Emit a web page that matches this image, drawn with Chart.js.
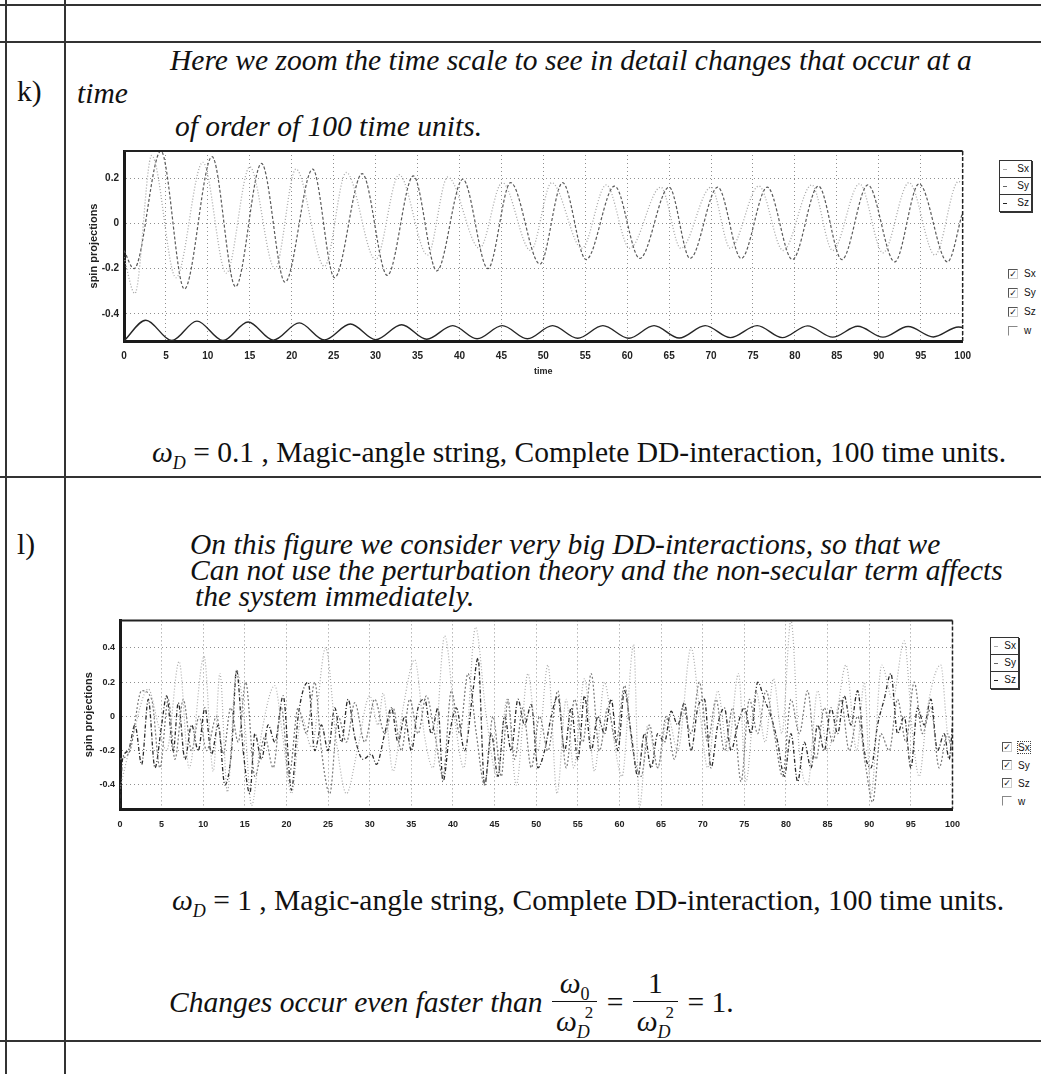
<!DOCTYPE html>
<html>
<head>
<meta charset="utf-8">
<title>Spin projections</title>
<script src="https://cdn.jsdelivr.net/npm/chart.js@4.4.1/dist/chart.umd.min.js"></script>
<style>
  body { margin: 0; background: #fff; }
  #page { position: relative; width: 1041px; height: 1074px; overflow: hidden;
          font-family: "Liberation Serif", "Times New Roman", serif; color: #111; }
  .txt { position: absolute; white-space: nowrap; font-size: 29.5px; line-height: 1; }
  .it { font-style: italic; }
  .hl { position: absolute; left: 0; width: 1041px; height: 2px; background: #333; }
  .vl { position: absolute; top: 0; width: 2px; height: 1074px; background: #333; }
  canvas { position: absolute; }
  sub { font-size: 18px; vertical-align: -7px; line-height: 0; }
  sup { font-size: 17px; vertical-align: 13px; line-height: 0; margin-left: -5px; }
  .frow { position: absolute; display: flex; align-items: center; font-size: 29.5px; white-space: nowrap; }
  .frac { display: inline-flex; flex-direction: column; align-items: center; margin: 0 2px; }
  .fn { padding: 0 4px 2px; line-height: 1.1; }
  .fd { border-top: 1.5px solid #111; padding: 3px 4px 0; line-height: 1.1; }
  .lbox { position: absolute; border: 1px solid #333; box-shadow: 1px 1px 0 #333; background: #fff;
          font: 10px "Liberation Sans", Arial, sans-serif; color: #111; }
  .lrow { position: relative; height: 16px; line-height: 16px; text-align: right; padding-right: 2px;
          border-bottom: 1px solid #333; }
  .lrow:last-child { border-bottom: none; }
  .ls { position: absolute; left: 3px; top: 8px; width: 4px; border-top: 1px solid #555; }
  .cbl { position: absolute; font: 10px "Liberation Sans", Arial, sans-serif; color: #111; }
  .cbr { display: flex; align-items: center; }
  .box { width: 8px; height: 8px; margin-right: 6px; border-top: 1px solid #555; border-left: 1px solid #555;
         border-right: 1px solid #ccc; border-bottom: 1px solid #ccc;
         font: bold 9px "DejaVu Sans", sans-serif; line-height: 8px; text-align: center; }
  .off { border-right-color: transparent; border-bottom-color: transparent; border-top-color: #888; border-left-color: #888; }
  .focus { outline: 1px dotted #444; }
</style>
</head>
<body>
<div id="page">
  <!-- table lines -->
  <div class="hl" style="top:4px"></div>
  <div class="hl" style="top:41px"></div>
  <div class="hl" style="top:476px"></div>
  <div class="hl" style="top:1040px"></div>
  <div class="vl" style="left:5px"></div>
  <div class="vl" style="left:64px"></div>

  <!-- k) -->
  <div class="txt it" style="left:170px;top:46px">Here we zoom the time scale to see in detail changes that occur at a</div>
  <div class="txt" style="left:17px;top:77px">k)</div>
  <div class="txt it" style="left:77px;top:79px">time</div>
  <div class="txt it" style="left:175px;top:112px">of order of 100 time units.</div>

  <canvas id="chartK" width="920" height="245" style="left:60px;top:140px"></canvas>

  <div class="lbox" style="left:999px;top:160px;width:31px">
    <div class="lrow"><span class="ls" style="border-color:#aaa"></span>Sx</div>
    <div class="lrow"><span class="ls" style="border-color:#666"></span>Sy</div>
    <div class="lrow"><span class="ls" style="border-color:#222"></span>Sz</div>
  </div>
  <div class="cbl" style="left:1008px;top:264px">
    <div class="cbr" style="height:19px"><span class="box">✓</span>Sx</div>
    <div class="cbr" style="height:19px"><span class="box">✓</span>Sy</div>
    <div class="cbr" style="height:19px"><span class="box">✓</span>Sz</div>
    <div class="cbr" style="height:19px"><span class="box off"></span>w</div>
  </div>

  <div class="txt" style="left:152px;top:438px"><i>ω</i><sub><i>D</i></sub> = 0.1 , Magic-angle string, Complete DD-interaction, 100 time units.</div>

  <!-- l) -->
  <div class="txt" style="left:17px;top:530px">l)</div>
  <div class="txt it" style="left:190px;top:530px">On this figure we consider very big DD-interactions, so that we</div>
  <div class="txt it" style="left:190px;top:556px">Can not use the perturbation theory and the non-secular term affects</div>
  <div class="txt it" style="left:195px;top:582px">the system immediately.</div>

  <canvas id="chartL" width="910" height="225" style="left:60px;top:610px"></canvas>

  <div class="lbox" style="left:990px;top:637px;width:27px">
    <div class="lrow"><span class="ls" style="border-color:#aaa"></span>Sx</div>
    <div class="lrow"><span class="ls" style="border-color:#666"></span>Sy</div>
    <div class="lrow"><span class="ls" style="border-color:#222"></span>Sz</div>
  </div>
  <div class="cbl" style="left:1002px;top:738px">
    <div class="cbr" style="height:18px"><span class="box">✓</span><span class="focus">Sx</span></div>
    <div class="cbr" style="height:18px"><span class="box">✓</span>Sy</div>
    <div class="cbr" style="height:18px"><span class="box">✓</span>Sz</div>
    <div class="cbr" style="height:18px"><span class="box off"></span>w</div>
  </div>

  <div class="txt" style="left:172px;top:886px"><i>ω</i><sub><i>D</i></sub> = 1 , Magic-angle string, Complete DD-interaction, 100 time units.</div>

  <div class="frow" style="left:169px;top:962px;height:80px">
    <span class="it">Changes occur even faster than&nbsp;</span>
    <span class="frac"><span class="fn"><i>ω</i><sub>0</sub></span><span class="fd"><i>ω</i><sub><i>D</i></sub><sup>2</sup></span></span>
    <span>&nbsp;=&nbsp;</span>
    <span class="frac"><span class="fn">1</span><span class="fd"><i>ω</i><sub><i>D</i></sub><sup>2</sup></span></span>
    <span>&nbsp;= 1.</span>
  </div>
</div>

<script>
// shared x axis (time units)
const xTicks = [0, 5, 10, 15, 20, 25, 30, 35, 40, 45, 50, 55, 60, 65, 70, 75, 80, 85, 90, 95, 100];
const xTickLabels = ["0", "5", "10", "15", "20", "25", "30", "35", "40", "45", "50", "55", "60", "65", "70", "75", "80", "85", "90", "95", "100"];

// k) omega_D = 0.1 : y ticks
const kYTicks = [-0.4, -0.2, 0, 0.2];
const kYLabels = ["-0.4", "-0.2", "0", "0.2"];

// k) Sx (light dotted) - turning points
const kSxT = [0, 1.3, 3.3, 6.2, 9.4, 12.2, 15.0, 18.0, 20.5, 23.9, 26.5, 30.0, 32.8, 36.2, 38.6, 42.4, 45.1, 48.5, 51.0, 54.6,
              57.5, 60.3, 64.0, 66.4, 70.0, 72.3, 75.7, 78.6, 82.0, 84.5, 87.7, 90.5, 93.6, 96.7, 99.5, 100];
const kSxV = [-0.15, -0.31, 0.30, -0.24, 0.27, -0.22, 0.25, -0.20, 0.24, -0.19, 0.225, -0.16, 0.215, -0.14, 0.205, -0.11, 0.18, -0.12, 0.18, -0.11,
              0.17, -0.11, 0.16, -0.11, 0.16, -0.11, 0.165, -0.12, 0.17, -0.12, 0.175, -0.13, 0.18, -0.14, 0.185, 0.18];

// k) Sy (darker dashed)
const kSyT = [0, 1.2, 4.4, 7.2, 10.5, 13.3, 16.4, 19.2, 22.5, 25.1, 28.4, 31.4, 34.5, 37.3, 40.4, 43.4, 46.1, 49.6, 52.3, 55.1,
              58.5, 61.5, 65.0, 67.5, 70.8, 73.6, 76.7, 79.7, 82.8, 85.6, 88.7, 91.9, 94.8, 98.2, 100];
const kSyV = [-0.12, -0.2, 0.32, -0.29, 0.295, -0.28, 0.265, -0.26, 0.24, -0.24, 0.22, -0.23, 0.21, -0.21, 0.195, -0.2, 0.18, -0.18, 0.18, -0.16,
              0.165, -0.155, 0.16, -0.155, 0.16, -0.155, 0.16, -0.16, 0.165, -0.16, 0.17, -0.17, 0.175, -0.17, 0.05];

// k) Sz (dark humps at the bottom)
const kSzT = [0, 2.6, 5.7, 8.7, 11.8, 14.8, 17.8, 20.9, 23.9, 27.0, 30.0, 33.1, 36.1, 39.2, 42.1, 45.1, 48.1, 51.1, 54.1, 57.1,
              60.2, 63.2, 66.2, 69.3, 72.3, 75.5, 78.5, 81.5, 84.5, 87.5, 90.5, 93.5, 96.5, 99.5, 100];
const kSzV = [-0.52, -0.428, -0.518, -0.432, -0.518, -0.436, -0.516, -0.44, -0.515, -0.445, -0.514, -0.448, -0.512, -0.452, -0.51, -0.452, -0.51, -0.452, -0.508, -0.452,
              -0.508, -0.452, -0.507, -0.452, -0.505, -0.452, -0.505, -0.453, -0.503, -0.455, -0.503, -0.456, -0.502, -0.458, -0.46];

// l) omega_D = 1 : y ticks
const lYTicks = [-0.4, -0.2, 0, 0.2, 0.4];
const lYLabels = ["-0.4", "-0.2", "0", "0.2", "0.4"];

// l) Sx (light dotted)
const lSxT = [0, 1.5, 3.4, 4.6, 5.6, 7.1, 8.3, 10.1, 11.2, 12.0, 12.9, 14.0, 15.0, 15.8, 17.0, 18.6, 19.5, 20.6, 21.8, 23.0,
              24.7, 26.0, 27.2, 28.5, 30.0, 31.0, 31.6, 32.8, 34.0, 35.4, 36.6, 37.6, 39.0, 40.3, 41.3, 42.7, 44.0, 45.3, 46.5, 47.6,
              49.0, 50.2, 51.4, 52.5, 53.6, 54.5, 55.8, 57.0, 58.2, 59.2, 60.3, 61.7, 62.4, 63.4, 64.6, 65.8, 67.0, 68.6, 69.6, 70.6,
              71.8, 73.0, 74.3, 75.2, 76.4, 77.5, 78.5, 79.5, 80.6, 81.6, 82.6, 83.8, 85.0, 86.2, 87.2, 88.5, 89.4, 90.2, 91.5, 92.8,
              94.2, 95.2, 96.0, 97.0, 98.6, 99.4, 100];
const lSxV = [-0.42, -0.12, 0.16, -0.05, -0.2, 0.32, -0.3, 0.35, -0.32, 0.25, -0.44, 0.27, -0.05, -0.52, -0.1, 0.18, -0.1, -0.45, 0.0, -0.18,
              0.40, -0.15, -0.45, -0.2, 0.12, -0.05, 0.135, -0.32, 0.05, 0.33, -0.12, -0.3, 0.47, -0.05, -0.3, 0.52, 0.0, -0.35, 0.1, -0.4,
              0.25, -0.2, 0.3, -0.45, 0.1, -0.3, 0.22, -0.32, 0.2, -0.1, -0.35, 0.42, -0.53, -0.05, -0.3, 0.0, -0.2, 0.40, 0.05, -0.3,
              0.15, -0.2, 0.25, -0.38, 0.15, -0.15, 0.22, -0.1, 0.56, -0.2, -0.4, 0.15, -0.2, 0.05, 0.3, -0.2, 0.2, -0.46, 0.3, 0.1,
              0.44, -0.1, -0.35, 0.05, 0.3, -0.1, -0.2];

// l) Sy (medium gray)
const lSyT = [0, 1.2, 2.6, 3.8, 4.8, 5.8, 6.6, 7.6, 8.6, 9.5, 10.4, 11.6, 12.4, 13.3, 14.2, 15.1, 16.2, 17.4, 18.4, 19.4,
              20.3, 21.4, 22.4, 23.4, 24.2, 25.2, 26.2, 27.2, 28.2, 29.4, 30.6, 31.8, 32.8, 33.8, 34.8, 35.8, 36.8, 37.8, 38.8, 39.8,
              40.8, 41.8, 42.8, 43.8, 44.8, 45.8, 46.6, 47.4, 48.4, 49.4, 50.4, 51.4, 52.6, 53.6, 54.6, 55.6, 56.6, 57.6, 58.6, 59.6,
              60.6, 61.6, 62.6, 63.6, 64.6, 65.6, 66.6, 67.6, 68.6, 69.6, 70.6, 71.6, 72.6, 73.6, 74.6, 75.6, 76.6, 77.6, 78.6, 79.6,
              80.6, 81.6, 82.6, 83.6, 84.6, 85.6, 86.6, 87.6, 88.6, 89.6, 90.4, 91.4, 92.4, 93.4, 94.4, 95.4, 96.4, 97.4, 98.4, 99.4, 100];
const lSyV = [-0.25, -0.2, 0.15, 0.1, -0.3, 0.1, -0.25, 0.1, -0.2, 0.0, -0.2, 0.0, -0.22, 0.05, -0.15, 0.2, -0.35, -0.12, -0.3, 0.05,
              -0.35, 0.05, -0.1, 0.2, -0.2, -0.45, 0.0, -0.15, 0.08, -0.15, 0.1, -0.1, 0.05, -0.2, 0.1, -0.1, 0.12, -0.1, -0.35, 0.15,
              -0.1, 0.25, -0.1, -0.4, 0.0, -0.35, 0.1, -0.25, 0.05, -0.3, 0.0, -0.2, 0.15, -0.3, 0.1, -0.15, 0.25, -0.2, 0.05, -0.15,
              0.18, -0.2, -0.35, -0.05, -0.3, 0.0, -0.25, 0.05, -0.1, 0.2, -0.15, 0.1, -0.2, 0.05, -0.38, 0.1, -0.1, 0.15, -0.1, -0.35,
              0.1, -0.1, 0.15, -0.25, 0.05, -0.15, 0.1, -0.2, 0.0, -0.3, -0.5, -0.1, -0.2, 0.1, -0.15, 0.2, -0.1, 0.05, -0.3, -0.1, -0.22];

// l) Sz (dark dash-dot)
const lSzT = [0, 0.3, 1.0, 1.8, 2.6, 3.4, 4.2, 5.0, 5.6, 6.4, 7.0, 7.8, 8.6, 9.4, 10.2, 11.0, 11.8, 12.6, 13.4, 14.0,
              14.8, 15.6, 16.2, 17.0, 17.8, 18.6, 19.6, 20.6, 21.4, 22.6, 23.4, 24.2, 25.0, 25.8, 26.6, 27.4, 28.2, 29.2, 30.2, 30.8,
              31.8, 32.6, 33.4, 34.2, 35.0, 35.8, 36.6, 37.4, 38.2, 38.8, 39.6, 40.4, 41.4, 42.4, 43.0, 43.8, 44.6, 45.4, 46.2, 47.0,
              47.8, 48.6, 49.4, 50.2, 51.0, 51.8, 52.6, 53.4, 54.2, 55.0, 55.8, 56.6, 57.4, 58.2, 59.0, 59.8, 60.6, 61.4, 62.2, 63.0,
              63.8, 64.6, 65.4, 66.2, 67.0, 67.8, 68.6, 69.4, 70.2, 71.0, 71.8, 72.6, 73.4, 74.2, 75.0, 75.8, 76.6, 77.4, 78.2, 79.0,
              79.8, 80.6, 81.4, 82.2, 83.0, 83.8, 84.6, 85.4, 86.2, 87.0, 87.8, 88.6, 89.4, 90.2, 91.0, 91.8, 92.6, 93.4, 94.2, 95.0,
              95.8, 96.6, 97.4, 98.2, 99.0, 99.6, 100];
const lSzV = [-0.53, -0.25, -0.2, -0.05, -0.28, 0.1, -0.3, -0.05, 0.12, -0.2, 0.08, -0.25, -0.05, -0.2, 0.05, -0.22, -0.05, -0.4, -0.2, 0.27,
              -0.2, -0.45, -0.1, -0.25, -0.05, -0.15, 0.12, -0.43, 0.0, 0.2, -0.2, -0.05, -0.2, 0.05, -0.15, 0.1, -0.12, -0.25, -0.22, -0.28,
              -0.1, 0.05, -0.15, 0.0, -0.2, 0.05, 0.1, -0.1, 0.05, -0.38, -0.1, 0.05, -0.2, 0.15, 0.34, -0.4, -0.1, -0.35, 0.0, -0.2,
              0.1, -0.05, 0.07, -0.3, -0.2, 0.0, 0.12, -0.2, 0.05, -0.25, 0.12, -0.2, 0.0, -0.1, 0.1, -0.2, 0.15, -0.1, -0.35, -0.1,
              -0.3, -0.1, -0.15, 0.03, -0.05, 0.08, -0.2, 0.05, 0.1, -0.3, -0.05, 0.05, -0.2, -0.05, 0.05, -0.1, 0.2, 0.1, 0.0, -0.15,
              -0.35, -0.1, -0.38, -0.15, -0.3, -0.05, -0.2, 0.05, -0.1, 0.12, -0.05, 0.15, -0.2, -0.3, -0.05, 0.1, 0.25, -0.1, 0.0, -0.3,
              0.05, -0.05, 0.1, -0.2, -0.1, -0.25, -0.05];

const LABEL_FONT = "Liberation Sans";

// top edge solid, right edge dashed, like the old plot widget
const plotFrame = {
  id: "plotFrame",
  afterDraw(chart) {
    const { ctx, chartArea: a } = chart;
    ctx.save();
    ctx.strokeStyle = "#222";
    ctx.lineWidth = 2;
    ctx.beginPath();
    ctx.moveTo(a.left, a.top);
    ctx.lineTo(a.right, a.top);
    ctx.stroke();
    ctx.lineWidth = 1.5;
    ctx.setLineDash([4, 2]);
    ctx.beginPath();
    ctx.moveTo(a.right, a.top);
    ctx.lineTo(a.right, a.bottom);
    ctx.stroke();
    ctx.restore();
  }
};

function pts(ts, vs) {
  return ts.map((t, i) => ({ x: t, y: vs[i] }));
}

function series(label, data, color, dash, width) {
  return {
    label, data,
    borderColor: color,
    borderWidth: width,
    borderDash: dash,
    pointRadius: 0,
    fill: false,
    cubicInterpolationMode: "monotone"
  };
}

function labelFor(ticks, labels) {
  return v => {
    const i = ticks.findIndex(t => Math.abs(t - v) < 1e-9);
    return i < 0 ? "" : labels[i];
  };
}

function makeChart(id, datasets, cfg) {
  const gridStyle = { color: "#8f8f8f", lineWidth: 1, drawTicks: false };
  // in v4 border.dash styles the grid lines, the axis line itself stays solid
  const axisLine = { color: "#1a1a1a", width: 3, dash: [1, 3] };
  return new Chart(document.getElementById(id), {
    type: "line",
    data: { datasets },
    plugins: [plotFrame],
    options: {
      responsive: false,
      animation: false,
      layout: { padding: cfg.padding },
      plugins: { legend: { display: false }, tooltip: { enabled: false } },
      scales: {
        x: {
          type: "linear", min: 0, max: 100,
          afterBuildTicks: s => { s.ticks = xTicks.map(v => ({ value: v })); },
          afterFit: s => { s.height = cfg.xHeight; },
          grid: gridStyle,
          border: axisLine,
          ticks: { padding: cfg.xPad, maxRotation: 0, autoSkip: false, color: "#222",
                   font: { family: LABEL_FONT, size: cfg.tickSize, weight: "bold" },
                   callback: labelFor(xTicks, xTickLabels) },
          title: cfg.xTitle
        },
        y: {
          type: "linear", min: cfg.yMin, max: cfg.yMax,
          afterBuildTicks: s => { s.ticks = cfg.yTicks.map(v => ({ value: v })); },
          afterFit: s => { s.width = cfg.yWidth; },
          grid: gridStyle,
          border: axisLine,
          ticks: { padding: 5, color: "#222",
                   font: { family: LABEL_FONT, size: cfg.tickSize, weight: "bold" },
                   callback: labelFor(cfg.yTicks, cfg.yLabels) },
          title: { display: true, text: "spin projections", color: "#222",
                   font: { family: LABEL_FONT, size: 11, weight: "bold" },
                   padding: { top: cfg.yTitlePad, bottom: 0 } }
        }
      }
    }
  });
}

makeChart("chartK", [
  series("Sx", pts(kSxT, kSxV), "#a8a8a8", [1, 2], 1.3),
  series("Sy", pts(kSyT, kSyV), "#5a5a5a", [3, 2], 1.2),
  series("Sz", pts(kSzT, kSzV), "#262626", [], 1.4)
], {
  padding: { left: 0, top: 7, right: 8, bottom: 0 },
  xHeight: 44, yWidth: 64, xPad: 9, tickSize: 10, yTitlePad: 27,
  yMin: -0.52, yMax: 0.32, yTicks: kYTicks, yLabels: kYLabels,
  xTitle: { display: true, text: "time", color: "#222",
            font: { family: LABEL_FONT, size: 9, weight: "bold" }, padding: { top: 0, bottom: 8 } }
});

makeChart("chartL", [
  series("Sx", pts(lSxT, lSxV), "#ababab", [1, 2], 1.2),
  series("Sy", pts(lSyT, lSyV), "#777777", [2, 2], 1.2),
  series("Sz", pts(lSzT, lSzV), "#2a2a2a", [4, 2, 1, 2], 1.3)
], {
  padding: { left: 0, top: 8, right: 7, bottom: 0 },
  xHeight: 26, yWidth: 60, xPad: 10, tickSize: 9, yTitlePad: 22,
  yMin: -0.54, yMax: 0.56, yTicks: lYTicks, yLabels: lYLabels,
  xTitle: { display: false }
});
</script>
</body>
</html>
